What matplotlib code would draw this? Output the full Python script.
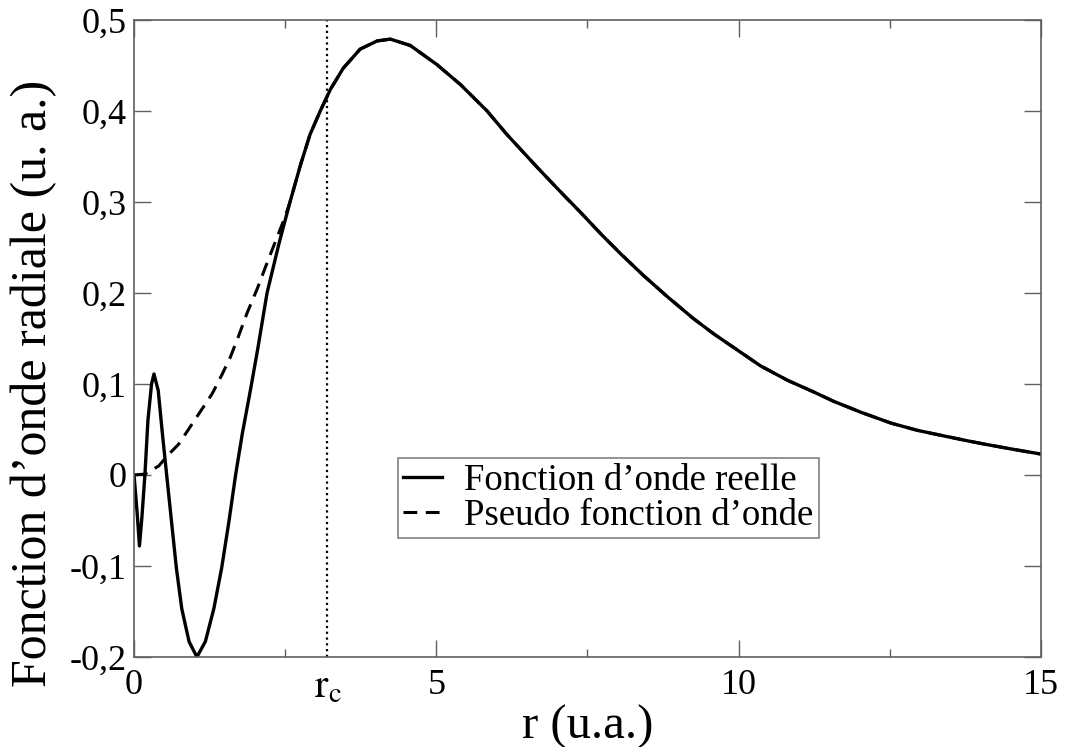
import matplotlib
matplotlib.use("Agg")
import matplotlib.pyplot as plt
from matplotlib.ticker import FixedLocator

# ---- data ----
r_real = [0.00, 0.05, 0.09, 0.13, 0.18, 0.23, 0.29, 0.33, 0.40, 0.47, 0.54,
          0.62, 0.70, 0.79, 0.91, 1.04, 1.18, 1.32, 1.45, 1.57, 1.68, 1.79,
          1.93, 2.05, 2.20, 2.40, 2.58, 2.75, 2.91, 3.08, 3.25, 3.46, 3.74,
          4.02, 4.24, 4.57, 5.01, 5.40, 5.84, 6.17, 6.67, 7.10, 7.38, 7.72,
          8.05, 8.43, 8.82, 9.25, 9.59, 9.92, 10.36, 10.81, 11.25, 11.57,
          12.02, 12.52, 12.96, 13.39, 13.79, 14.06, 14.56, 15.00]
psi_real = [0.000, -0.040, -0.078, -0.047, 0.000, 0.060, 0.100, 0.111, 0.093,
            0.045, 0.000, -0.051, -0.102, -0.147, -0.183, -0.200, -0.183,
            -0.147, -0.102, -0.051, 0.000, 0.045, 0.095, 0.140, 0.200, 0.255,
            0.300, 0.340, 0.374, 0.400, 0.424, 0.447, 0.468, 0.477, 0.479,
            0.472, 0.451, 0.429, 0.400, 0.374, 0.338, 0.308, 0.289, 0.265,
            0.243, 0.219, 0.196, 0.172, 0.155, 0.140, 0.120, 0.104, 0.091,
            0.081, 0.069, 0.057, 0.049, 0.043, 0.0375, 0.034, 0.028, 0.023]

r_pseudo_inner = [0.00, 0.18, 0.41, 0.55, 0.74, 1.07, 1.29, 1.46, 1.59, 1.72,
                  1.87, 2.04, 2.20, 2.37, 2.50]
psi_pseudo_inner = [0.000, 0.001, 0.010, 0.021, 0.034, 0.067, 0.089, 0.111,
                    0.129, 0.151, 0.178, 0.205, 0.233, 0.262, 0.284]

r_c = 3.2
r_join = 2.58  # pseudo function equals the real one beyond this radius

x_major_ticks = [0, 5, 10, 15]
x_major_labels = ["0", "5", "10", "15"]
x_minor_ticks = [2.5, 7.5, 12.5]
y_ticks = [-0.2, -0.1, 0.0, 0.1, 0.2, 0.3, 0.4, 0.5]
y_tick_labels = ["-0,2", "-0,1", "0", "0,1", "0,2", "0,3", "0,4", "0,5"]

label_real = "Fonction d\u2019onde reelle"
label_pseudo = "Pseudo fonction d\u2019onde"
xlabel = "r (u.a.)"
ylabel = "Fonction d\u2019onde radiale (u. a.)"

join = r_real.index(r_join)
r_pseudo = r_pseudo_inner + r_real[join:]
psi_pseudo = psi_pseudo_inner + psi_real[join:]

# ---- style ----
plt.rcParams["font.family"] = ["Liberation Serif", "DejaVu Serif"]
plt.rcParams["mathtext.fontset"] = "stix"

fig = plt.figure(figsize=(10.67, 7.47), dpi=100)
ax = fig.add_axes([0.1256, 0.1205, 0.8500, 0.8527])

axis_col = "#606060"

ax.plot(r_real, psi_real, color="black", lw=2.4, solid_joinstyle="round",
        label=label_real)
ax.plot(r_pseudo, psi_pseudo, color="black", lw=2.2, dashes=(4.5, 2.8),
        label=label_pseudo)
ax.axvline(r_c, color="black", lw=1.6, ls=(0, (1, 1.6)))

ax.set_xlim(0, 15)
ax.set_ylim(-0.2, 0.5)

ax.xaxis.set_major_locator(FixedLocator(x_major_ticks))
ax.set_xticklabels(x_major_labels)
ax.xaxis.set_minor_locator(FixedLocator(x_minor_ticks))
ax.set_yticks(y_ticks)
ax.set_yticklabels(y_tick_labels)

ax.tick_params(which="both", direction="in", top=True, right=True,
               color=axis_col, width=1.0, labelsize=26)
ax.tick_params(which="major", length=12.5)
ax.tick_params(which="minor", length=6)
ax.tick_params(axis="x", pad=9)
ax.tick_params(axis="y", pad=5.5)

for s in ax.spines.values():
    s.set_color(axis_col)
    s.set_linewidth(1.2)

ax.annotate(r"$\mathrm{r_c}$", xy=(r_c, 0), xycoords=("data", "axes fraction"),
            xytext=(0, -9), textcoords="offset points", ha="center", va="top",
            fontsize=29)

ax.set_xlabel(xlabel, fontsize=35)
ax.xaxis.set_label_coords(0.5, -0.075)
ax.xaxis.label.set_va("top")
ax.set_ylabel(ylabel, fontsize=36)
ax.yaxis.set_label_coords(-0.085, 0.43)

leg = ax.legend(loc="upper left", bbox_to_anchor=(0.291, 0.312), fontsize=26.5,
                frameon=True, fancybox=False, handlelength=1.05,
                handletextpad=0.6, borderpad=0.15, labelspacing=0.0,
                borderaxespad=0)
leg.get_frame().set_edgecolor(axis_col)
leg.get_frame().set_linewidth(1.2)

fig.savefig("out.png", dpi=100)
